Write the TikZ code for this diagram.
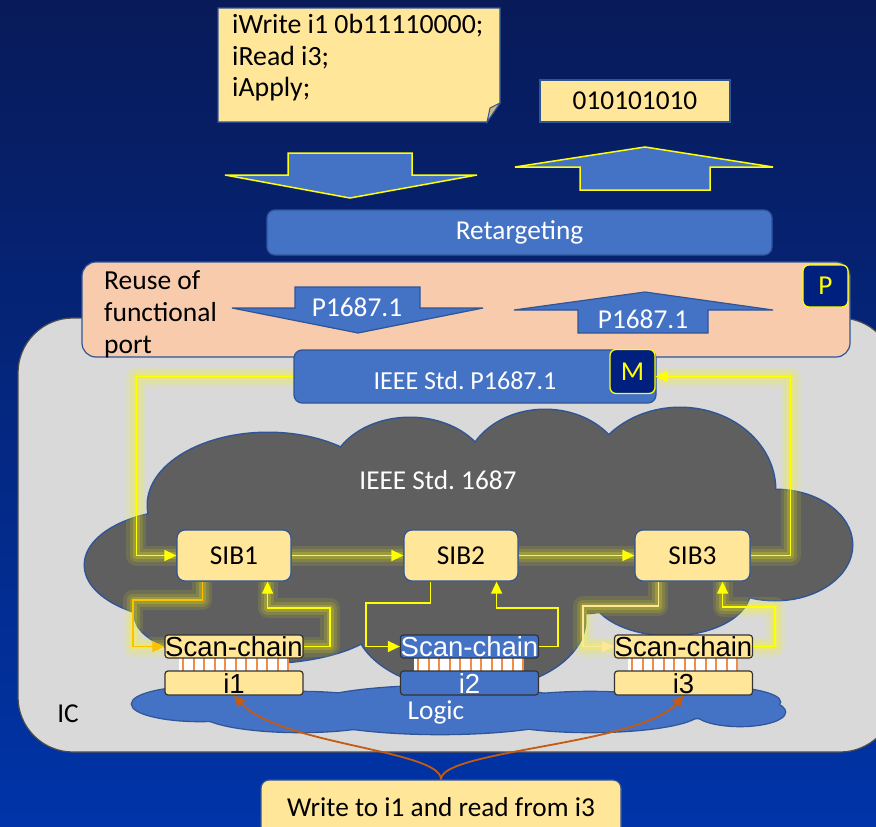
\documentclass[tikz,border=0pt]{standalone}
\usepackage{fontspec}
\setmainfont{Carlito}
\newfontfamily\arialf{Liberation Sans}
\usetikzlibrary{arrows.meta,calc}
\pgfdeclarelayer{back}
\pgfdeclarelayer{glow}
\pgfsetlayers{back,glow,main}
\definecolor{bgtop}{RGB}{8,26,88}
\definecolor{bgbot}{RGB}{0,52,168}
\definecolor{ylw}{RGB}{255,230,153}
\definecolor{bluef}{RGB}{68,114,196}
\definecolor{blueb}{RGB}{47,85,151}
\definecolor{peach}{RGB}{248,203,173}
\definecolor{navy}{RGB}{0,32,128}
\definecolor{icgray}{RGB}{217,217,217}
\definecolor{cloudgray}{RGB}{95,95,95}
\definecolor{orng}{RGB}{197,90,17}
\definecolor{stripe}{RGB}{244,140,70}
\definecolor{gold}{RGB}{255,192,0}
\definecolor{foldc}{RGB}{204,184,122}
\definecolor{yline}{RGB}{255,255,0}
\frenchspacing
\begin{document}
\begin{tikzpicture}[x=1pt,y=-1pt,
  font=\fontsize{27.3}{32}\selectfont,
  ybox/.style={draw=blueb, fill=ylw, line width=1.2pt, rounded corners=8pt, inner sep=0pt},
  bbox/.style={draw=blueb, fill=bluef, line width=1.2pt, rounded corners=8pt, inner sep=0pt, text=white},
  tagbox/.style={draw=yline, fill=navy, line width=1.3pt, rounded corners=6pt, text=yline, minimum width=45pt, minimum height=44pt, inner sep=0pt},
  chainbox/.style={draw=black!80, line width=1.2pt, rounded corners=3pt, minimum width=138pt, minimum height=23pt, inner sep=0pt, text height=21pt, text depth=2pt, font=\arialf\fontsize{27.5}{30}\selectfont},
  ibox/.style={chainbox, minimum height=24pt, text height=22pt, text depth=2pt},
  glowline/.style={preaction={draw, yline, line width=20pt, opacity=.10, line join=round},
                   preaction={draw, yline, line width=13pt, opacity=.14, line join=round},
                   draw, yline, line width=7pt, opacity=.2, line join=round},
  wire/.style={draw, line width=1.3pt, -{Triangle[length=12pt,width=11pt]}},
  blockup/.style={fill=bluef, draw=yline, line width=1.5pt},
  blockin/.style={fill=bluef, draw=blueb, line width=1.2pt},
  oarrow/.style={draw=orng, line width=1.8pt, -{Triangle[length=11pt,width=10pt]}}
]
\useasboundingbox (0,0) rectangle (876,827);
\begin{pgfonlayer}{back}
\shade[top color=bgtop,bottom color=bgbot] (0,0) rectangle (876,827);
\draw[fill=icgray, draw=black!70, line width=1.2pt, rounded corners=55pt] (18,318) rectangle (895,752);
% dark cloud
\foreach \cx/\cy/\rx/\ry in {268/505/120/72, 410/478/80/60, 545/475/80/65, 680/490/95/82, 775/545/77/55, 190/565/105/55, 260/615/125/48, 470/620/115/70, 670/590/80/45}
  \draw[blueb, line width=3pt] (\cx,\cy) ellipse [x radius=\rx pt, y radius=\ry pt];
\foreach \cx/\cy/\rx/\ry in {268/505/120/72, 410/478/80/60, 545/475/80/65, 680/490/95/82, 775/545/77/55, 190/565/105/55, 260/615/125/48, 470/620/115/70, 670/590/80/45, 470/540/320/80}
  \fill[cloudgray] (\cx,\cy) ellipse [x radius=\rx pt, y radius=\ry pt];
% logic cloud
\foreach \cx/\cy/\rx/\ry in {200/704/68/17, 300/712/100/20, 440/710/140/24, 590/712/110/20, 700/702/80/16, 740/712/45/14}
  \draw[blueb, line width=2.6pt] (\cx,\cy) ellipse [x radius=\rx pt, y radius=\ry pt];
\foreach \cx/\cy/\rx/\ry in {200/704/68/17, 300/712/100/20, 440/710/140/24, 590/712/110/20, 700/702/80/16, 740/712/45/14}
  \fill[bluef] (\cx,\cy) ellipse [x radius=\rx pt, y radius=\ry pt];
\end{pgfonlayer}

% note with folded corner
\path[draw=blueb, fill=ylw, line width=1.2pt] (218,8) -- (500,8) -- (500,103) -- (487,122) -- (218,122) -- cycle;
\path[draw=blueb, fill=foldc, line width=1pt] (487,122) -- (490,108) -- (500,103) -- cycle;
\node[anchor=north west, align=left, inner sep=0pt, font=\fontsize{27.8}{31.5}\selectfont] (note) at (232,14) {iWrite i1 0b11110000;\\iRead i3;\\iApply;};
\node[ybox, rounded corners=0pt, minimum width=190pt, minimum height=42pt] (bits) at (635,101) {010101010};

% top block arrows
\draw[blockup] (288,153) -- (412,153) -- (412,175) -- (477,175) -- (350,198) -- (225,175) -- (288,175) -- cycle;
\draw[blockup] (645,147) -- (773,167) -- (710,167) -- (710,190) -- (580,190) -- (580,167) -- (515,167) -- cycle;

\node[bbox, minimum width=505pt, minimum height=45pt] (retarget) at (519.5,232.5) {Retargeting};

% reuse box
\node[draw=blueb, fill=peach, line width=1.2pt, rounded corners=14pt, minimum width=768pt, minimum height=95pt] (reuse) at (466,309.5) {};
\node[anchor=north west, align=left, inner sep=0pt, font=\fontsize{27.5}{32}\selectfont] (reusetxt) at (104,270) {Reuse of\\functional\\port};
\node[tagbox, minimum height=42pt] (ptag) at (825.5,286) {P};
\draw[blockin] (295,287) -- (420,287) -- (420,308) -- (483,308) -- (358,333) -- (232,308) -- (295,308) -- cycle;
\node[text=white] (pdn) at (357,307) {P1687.1};
\draw[blockin] (645,292) -- (773,310) -- (708,310) -- (708,333) -- (578,333) -- (578,310) -- (514,310) -- cycle;
\node[text=white] (pup) at (643,319) {P1687.1};

% IEEE P1687.1 box
\node[bbox, minimum width=362pt, minimum height=53pt] (ieee) at (475,376.5) {};
\node[text=white, font=\fontsize{26}{30}\selectfont] (ieeetxt) at (465,381) {IEEE Std. P1687.1};
\node[tagbox] (mtag) at (632.5,371.5) {M};

\node (ic) at (68,714) {IC};
\node[text=white] (cloudtxt) at (438,480) {IEEE Std. 1687};

% SIBs
\node[ybox, minimum width=114pt, minimum height=51pt] (sib1) at (234,555.5) {SIB1};
\node[ybox, minimum width=114pt, minimum height=51pt] (sib2) at (461,555.5) {SIB2};
\node[ybox, minimum width=115pt, minimum height=51pt] (sib3) at (692.5,555.5) {SIB3};

% scan chains, stripes, instruments
\foreach \sx in {179,414,628} {
  \fill[white] (\sx,658) rectangle ++(110,13);
  \foreach \k in {0,...,10} \fill[stripe] ({\sx+3+10.5*\k},658) rectangle ++(2.2,13);
}
\node[chainbox, fill=ylw] (scan1) at (234,646.5) {Scan-chain};
\node[chainbox, fill=bluef, text=white] (scan2) at (469.5,646.5) {Scan-chain};
\node[chainbox, fill=ylw] (scan3) at (683.5,646.5) {Scan-chain};
\node[ibox, fill=ylw] (i1) at (234,683) {i1};
\node[ibox, fill=bluef, text=white] (i2) at (469.5,683) {i2};
\node[ibox, fill=ylw] (i3) at (683.5,683) {i3};
\node[text=white] (logic) at (436,712) {Logic};

% glow
\begin{pgfonlayer}{glow}
\path[glowline] (ieee.west) -- ++(-157,0) |- (sib1.west);
\path[glowline] (sib1.east) -- (sib2.west);
\path[glowline] (sib2.east) -- (sib3.west);
\path[glowline] (sib3.east) -- ++(40,0) |- (mtag.east |- ieee.west);
\path[glowline] ([xshift=26pt]sib1.south west) |- (133,600) |- (scan1.west);
\path[glowline] (scan1.east) -| (330,608) -| ([xshift=-24pt]sib1.south east);
\path[glowline] ([xshift=24pt]sib3.south west) |- (583,606) |- (scan3.west);
\path[glowline] (scan3.east) -| (775,607) -| ([xshift=-28pt]sib3.south east);
\end{pgfonlayer}

% wires
\draw[wire, yline] (ieee.west) -- ++(-157,0) |- (sib1.west);
\draw[wire, yline] (sib1.east) -- (sib2.west);
\draw[wire, yline] (sib2.east) -- (sib3.west);
\draw[wire, yline] (sib3.east) -- ++(40,0) |- (mtag.east |- ieee.west);
\draw[wire, gold] ([xshift=26pt]sib1.south west) |- (133,600) |- (scan1.west);
\draw[wire, yline] (scan1.east) -| (330,608) -| ([xshift=-24pt]sib1.south east);
\draw[wire, yline] ([xshift=27pt]sib2.south west) |- (366,603) |- (scan2.west);
\draw[wire, yline] (scan2.east) -| (558,608) -| ([xshift=-22pt]sib2.south east);
\draw[wire, ylw] ([xshift=24pt]sib3.south west) |- (583,606) |- (scan3.west);
\draw[wire, yline] (scan3.east) -| (775,607) -| ([xshift=-28pt]sib3.south east);

% bottom box and orange arrows
\node[ybox, minimum width=360pt, minimum height=55pt] (wtxt) at (441,807.5) {Write to i1 and read from i3};
\draw[oarrow] (wtxt.north) .. controls (441,750) and (280,745) .. (i1.south);
\draw[oarrow] (wtxt.north) .. controls (441,750) and (640,745) .. (i3.south);
\end{tikzpicture}
\end{document}
